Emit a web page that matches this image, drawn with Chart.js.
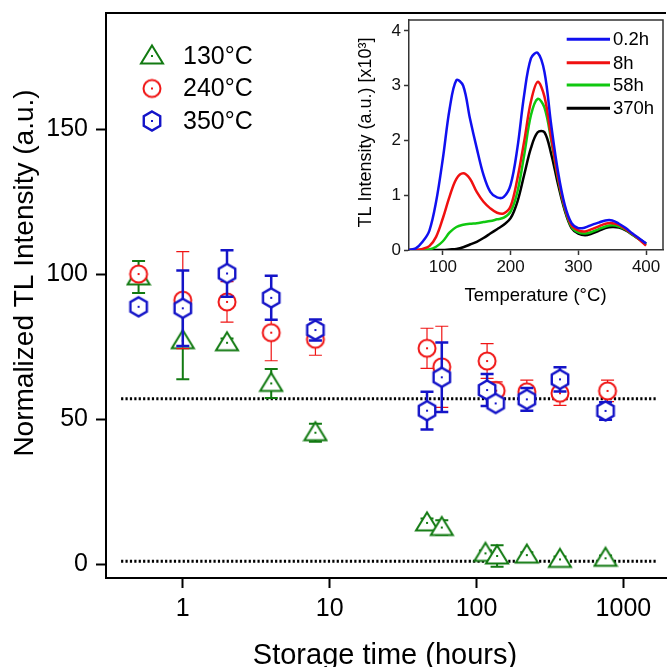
<!DOCTYPE html>
<html>
<head>
<meta charset="utf-8">
<script src="https://cdn.jsdelivr.net/npm/chart.js@4.4.1/dist/chart.umd.min.js"></script>
<style>
    body { margin: 0; background: #fff; }
    #wrap { position: relative; width: 667px; height: 667px; overflow: hidden; }
    #mainChart { position: absolute; left: 0; top: 0; }
    #insetChart { position: absolute; left: 340px; top: 0; }
</style>
</head>
<body>
<div id="wrap">
    <!-- main plot is cut by the right edge of the figure, so the canvas runs a few px past it -->
    <canvas id="mainChart" width="671" height="667"></canvas>
    <canvas id="insetChart" width="327" height="320"></canvas>
</div>
<script>
// Main plot data (storage time in hours, normalized TL intensity)
const greenHours = [0.5, 1, 2, 4, 8, 46, 58, 115, 138, 220, 370, 756];
const green130 = [99, 77, 76.3, 62.3, 45.3, 14.2, 12.6, 3.7, 2.8, 3.1, 1.6, 2];
const green130Err = [5.5, 13.3, 1.5, 5, 3.1, 1.5, 2.5, 1, 3.7, 1, 1, 1];

const redHours = [0.5, 1, 2, 4, 8, 46, 58, 118, 136, 220, 370, 780];
const red240 = [100, 91, 90.4, 79.8, 77.5, 74.4, 68, 70, 59.8, 59.4, 58.9, 59.7];
const red240Err = [2, 16.7, 7, 9.7, 5.5, 6.9, 14, 6, 3, 4, 4.2, 3.7];

const blueHours = [0.5, 1, 2, 4, 8, 46, 58, 118, 135, 220, 370, 756];
const blue350 = [88.7, 88.2, 100.2, 91.8, 80.7, 52.9, 64.4, 60, 55.4, 56.8, 63.7, 52.8];
const blue350Err = [1.5, 13, 8, 7.6, 3.6, 6.5, 12, 5.5, 1.5, 3.9, 4.2, 3];

const refLevels = [57, 1];
const refSpan = [0.38, 1700];

const xTicks = [1, 10, 100, 1000];
const yTicks = [0, 50, 100, 150];
const seriesLabels = ['130°C', '240°C', '350°C'];

// Inset data (glow curves)
const temps = [50, 60, 70, 80, 90, 100, 110, 120, 130, 140, 150, 160, 170, 180, 190, 200, 210, 220,
    230, 240, 250, 260, 270, 280, 290, 300, 310, 320, 330, 340, 350, 360, 370, 380, 390, 400];
const glow02h = [0, 0.03, 0.15, 0.35, 0.88, 1.67, 2.58, 3.1, 3.0, 2.4, 1.86, 1.37, 1.06, 0.96, 0.97, 1.19, 1.86, 2.83,
    3.5, 3.6, 3.25, 2.28, 1.43, 0.82, 0.49, 0.4, 0.41, 0.46, 0.5, 0.54, 0.54, 0.48, 0.4, 0.3, 0.21, 0.12];
const glow8h = [0, 0, 0.02, 0.07, 0.24, 0.58, 0.98, 1.3, 1.4, 1.3, 1.06, 0.88, 0.76, 0.68, 0.67, 0.8, 1.3, 1.98,
    2.71, 3.07, 2.8, 2.05, 1.33, 0.78, 0.45, 0.36, 0.34, 0.38, 0.43, 0.48, 0.49, 0.46, 0.38, 0.29, 0.19, 0.08];
const glow58h = [0, 0, 0, 0.01, 0.06, 0.16, 0.32, 0.42, 0.46, 0.48, 0.49, 0.51, 0.53, 0.56, 0.59, 0.7, 1.06, 1.73,
    2.46, 2.76, 2.6, 2.0, 1.3, 0.75, 0.42, 0.32, 0.3, 0.33, 0.38, 0.43, 0.45, 0.43, 0.37, 0.28, 0.19, 0.1];
const glow370h = [0, 0, 0, 0, 0, 0, 0.01, 0.02, 0.05, 0.1, 0.15, 0.22, 0.3, 0.38, 0.46, 0.58, 0.88, 1.37,
    1.86, 2.15, 2.15, 1.75, 1.2, 0.72, 0.4, 0.3, 0.27, 0.3, 0.35, 0.4, 0.42, 0.41, 0.36, 0.28, 0.2, 0.12];
const insetLabels = ['0.2h', '8h', '58h', '370h'];
const insetXTicks = [100, 200, 300, 400];
const insetYTicks = [0, 1, 2, 3, 4];

const FONT = '"Liberation Sans", Arial, sans-serif';
const GREEN = '#127a12';
const RED = '#f01414';
const BLUE = '#1414c8';

// Hollow markers with a centre dot
function makeMarker(shape, color) {
    const c = document.createElement('canvas');
    c.width = 26;
    c.height = 26;
    const g = c.getContext('2d');
    g.translate(13, 13);
    g.lineWidth = shape === 'hexagon' ? 2.4 : 2;
    g.strokeStyle = color;
    g.fillStyle = '#fff';
    g.beginPath();
    if (shape === 'triangle') {
        g.moveTo(0, -10.5);
        g.lineTo(11, 7.5);
        g.lineTo(-11, 7.5);
        g.closePath();
    } else if (shape === 'circle') {
        g.arc(0, 0, 8.5, 0, Math.PI * 2);
    } else {
        for (let k = 0; k < 6; k++) {
            const a = -Math.PI / 2 + k * Math.PI / 3;
            if (k === 0) g.moveTo(9.5 * Math.cos(a), 9.5 * Math.sin(a));
            else g.lineTo(9.5 * Math.cos(a), 9.5 * Math.sin(a));
        }
        g.closePath();
    }
    g.fill();
    g.stroke();
    g.fillStyle = color;
    g.fillRect(-1, -1, 2, 2);
    return c;
}

const markers = [makeMarker('triangle', GREEN), makeMarker('circle', RED), makeMarker('hexagon', BLUE)];

const toPoints = (xs, ys) => xs.map((x, i) => ({ x: x, y: ys[i] }));

// drop the label-based padding chart.js adds so the plot box sits where we want it
function noScalePadding(s) {
    s.paddingTop = 0;
    s.paddingBottom = 0;
    s.paddingLeft = 0;
    s.paddingRight = 0;
}

// Error bars drawn just before each dataset, so later series overlap earlier ones
const errorBarPlugin = {
    id: 'errorBars',
    beforeDatasetDraw(chart, args) {
        const ds = chart.data.datasets[args.index];
        if (!ds.errors) return;
        const ctx = chart.ctx;
        const xs = chart.scales.x;
        const ys = chart.scales.y;
        ctx.save();
        ctx.strokeStyle = ds.errColor;
        ctx.lineWidth = ds.errWidth;
        ds.data.forEach((p, i) => {
            const e = ds.errors[i];
            const px = xs.getPixelForValue(p.x);
            const top = ys.getPixelForValue(p.y + e);
            const bot = ys.getPixelForValue(p.y - e);
            ctx.beginPath();
            ctx.moveTo(px, top);
            ctx.lineTo(px, bot);
            ctx.moveTo(px - 6.5, top);
            ctx.lineTo(px + 6.5, top);
            ctx.moveTo(px - 6.5, bot);
            ctx.lineTo(px + 6.5, bot);
            ctx.stroke();
        });
        ctx.restore();
    }
};

const mainDecorPlugin = {
    id: 'mainDecor',
    afterDraw(chart) {
        const ctx = chart.ctx;
        const area = chart.chartArea;
        ctx.save();
        // top frame line
        ctx.strokeStyle = '#000';
        ctx.lineWidth = 2;
        ctx.beginPath();
        ctx.moveTo(area.left - 1, area.top);
        ctx.lineTo(area.right, area.top);
        ctx.stroke();

        // legend
        const rows = [56, 88.5, 121];
        ctx.font = '25px ' + FONT;
        ctx.fillStyle = '#000';
        ctx.textBaseline = 'middle';
        ctx.textAlign = 'left';
        seriesLabels.forEach((label, i) => {
            const m = markers[i];
            ctx.drawImage(m, 152 - m.width / 2, rows[i] - m.height / 2);
            ctx.fillText(label, 183, rows[i] + 1);
        });

        // axis titles
        ctx.textBaseline = 'alphabetic';
        ctx.textAlign = 'center';
        ctx.font = '29px ' + FONT;
        ctx.fillText('Storage time (hours)', 385, 664);
        ctx.translate(33, 273);
        ctx.rotate(-Math.PI / 2);
        ctx.font = '28px ' + FONT;
        ctx.fillText('Normalized TL Intensity (a.u.)', 0, 0);
        ctx.restore();
    }
};

const axisCommon = {
    border: { color: '#000', width: 2 },
    grid: { drawOnChartArea: false, drawTicks: true, tickLength: 10, tickWidth: 2, tickColor: '#000' },
};

new Chart(document.getElementById('mainChart'), {
    type: 'scatter',
    data: {
        datasets: [
            {
                label: seriesLabels[0],
                data: toPoints(greenHours, green130),
                errors: green130Err, errColor: GREEN, errWidth: 2,
                pointStyle: markers[0], order: 3
            },
            {
                label: seriesLabels[1],
                data: toPoints(redHours, red240),
                errors: red240Err, errColor: RED, errWidth: 1.2,
                pointStyle: markers[1], order: 2
            },
            {
                label: seriesLabels[2],
                data: toPoints(blueHours, blue350),
                errors: blue350Err, errColor: BLUE, errWidth: 2.5,
                pointStyle: markers[2], order: 1
            },
            ...refLevels.map((lvl, i) => ({
                label: 'ref' + i,
                data: refSpan.map(x => ({ x: x, y: lvl })),
                showLine: true,
                borderColor: '#000',
                borderWidth: 3,
                borderDash: [2.2, 2.2],
                pointRadius: 0,
                order: 5 + i
            }))
        ]
    },
    options: {
        responsive: false,
        animation: false,
        devicePixelRatio: 1,
        layout: { padding: { left: 0, top: 13, right: 0, bottom: 0 } },
        plugins: { legend: { display: false }, tooltip: { enabled: false } },
        scales: {
            x: {
                ...axisCommon,
                type: 'logarithmic',
                min: 0.3,
                max: 1950,
                afterBuildTicks: s => { s.ticks = xTicks.map(v => ({ value: v })); },
                afterFit: s => { s.height = 89; noScalePadding(s); },
                ticks: {
                    color: '#000', font: { size: 25, family: FONT }, padding: 6,
                    autoSkip: false, maxRotation: 0, callback: v => String(v)
                }
            },
            y: {
                ...axisCommon,
                min: -4.8,
                max: 190,
                afterBuildTicks: s => { s.ticks = yTicks.map(v => ({ value: v })); },
                afterFit: s => { s.width = 106; noScalePadding(s); },
                ticks: { color: '#000', font: { size: 25, family: FONT }, padding: 8 }
            }
        }
    },
    plugins: [errorBarPlugin, mainDecorPlugin]
});

// Inset
const INSET_AXIS = '#333';
const insetColors = ['#1010f0', '#f01010', '#10c810', '#000'];
const insetSeries = [glow02h, glow8h, glow58h, glow370h];

const insetDecorPlugin = {
    id: 'insetDecor',
    afterDraw(chart) {
        const ctx = chart.ctx;
        const area = chart.chartArea;
        ctx.save();
        ctx.strokeStyle = INSET_AXIS;
        ctx.lineWidth = 1.5;
        ctx.beginPath();
        ctx.moveTo(area.left, area.top);
        ctx.lineTo(area.right, area.top);
        ctx.lineTo(area.right, area.bottom);
        ctx.stroke();

        // legend
        const rows = [39.3, 62.7, 85, 108.3];
        ctx.font = '18.5px ' + FONT;
        ctx.fillStyle = '#000';
        ctx.textBaseline = 'middle';
        ctx.textAlign = 'left';
        insetLabels.forEach((label, i) => {
            ctx.strokeStyle = insetColors[i];
            ctx.lineWidth = 3;
            ctx.beginPath();
            ctx.moveTo(226.7, rows[i]);
            ctx.lineTo(270, rows[i]);
            ctx.stroke();
            ctx.fillText(label, 273, rows[i] + 1);
        });

        // axis titles
        ctx.textBaseline = 'alphabetic';
        ctx.textAlign = 'center';
        ctx.fillText('Temperature (°C)', 195.5, 301);
        ctx.translate(31, 132.5);
        ctx.rotate(-Math.PI / 2);
        ctx.font = '18px ' + FONT;
        ctx.fillText('TL Intensity (a.u.) [x10³]', 0, 0);
        ctx.restore();
    }
};

const insetAxis = {
    border: { color: INSET_AXIS, width: 1.5 },
    grid: { drawOnChartArea: false, drawTicks: true, tickLength: 5, tickWidth: 1.5, tickColor: INSET_AXIS },
};

new Chart(document.getElementById('insetChart'), {
    type: 'line',
    data: {
        datasets: insetSeries.map((vals, i) => ({
            label: insetLabels[i],
            data: toPoints(temps, vals),
            borderColor: insetColors[i],
            borderWidth: 2.5,
            pointRadius: 0,
            tension: 0.35,
            fill: false
        }))
    },
    options: {
        responsive: false,
        animation: false,
        devicePixelRatio: 1,
        layout: { padding: { left: 0, top: 20, right: 4, bottom: 0 } },
        plugins: { legend: { display: false }, tooltip: { enabled: false } },
        scales: {
            x: {
                ...insetAxis,
                type: 'linear',
                min: 50,
                max: 425,
                afterBuildTicks: s => { s.ticks = insetXTicks.map(v => ({ value: v })); },
                afterFit: s => { s.height = 70; noScalePadding(s); },
                ticks: { color: '#111', font: { size: 17, family: FONT }, padding: 2, maxRotation: 0 }
            },
            y: {
                ...insetAxis,
                min: 0,
                max: 4.2,
                afterBuildTicks: s => { s.ticks = insetYTicks.map(v => ({ value: v })); },
                afterFit: s => { s.width = 69; noScalePadding(s); },
                ticks: { color: '#111', font: { size: 17, family: FONT }, padding: 3 }
            }
        }
    },
    plugins: [insetDecorPlugin]
});
</script>
</body>
</html>
